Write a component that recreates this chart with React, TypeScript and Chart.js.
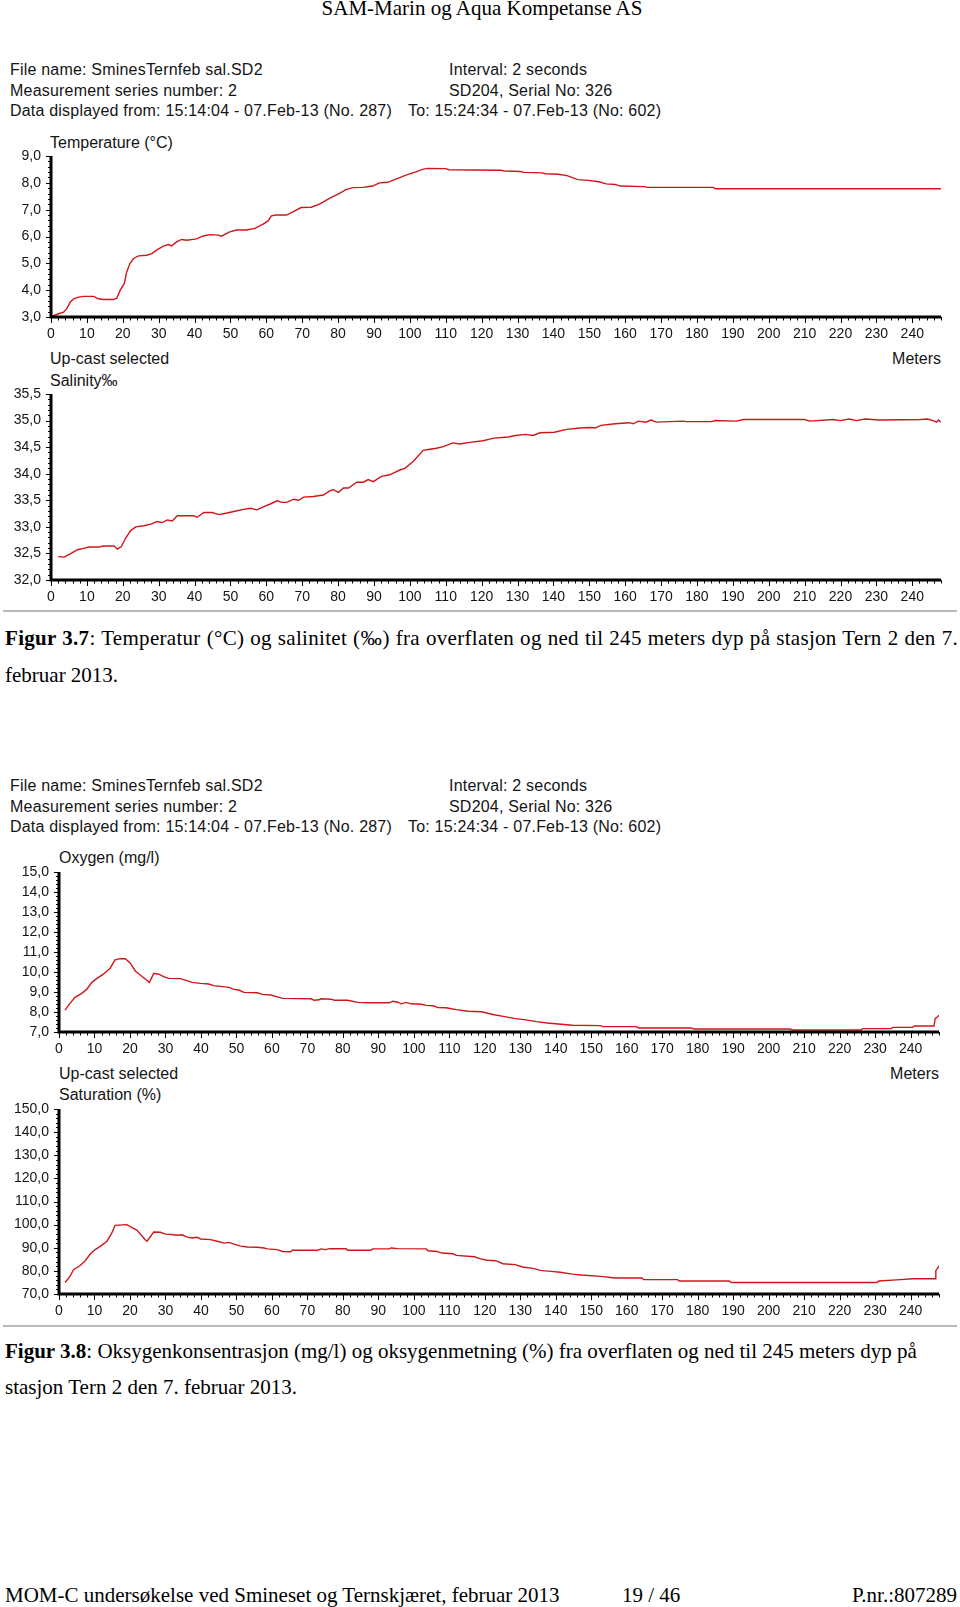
import React, { useEffect, useRef } from "react";
import { Chart, registerables } from "chart.js";

Chart.register(...registerables);

// ---------- data ----------
const X_MAX = 248;

const tempDepth = [0.3, 2.1, 3.5, 4.4, 5.4, 6.3, 7.7, 9.1, 11.9, 13.2, 14.6, 17.4, 18.3, 19.3, 20.4, 21.1, 22.0, 23.0, 24.4, 26.7, 28.1, 29.4, 31.3, 32.7, 33.6, 35.0, 36.4, 37.8, 40.6, 42.4, 44.3, 46.6, 47.5, 49.8, 51.7, 54.4, 56.8, 59.1, 60.5, 61.4, 62.8, 65.6, 67.4, 69.7, 72.5, 74.8, 77.6, 80.4, 82.2, 84.1, 86.9, 89.6, 91.5, 93.8, 96.1, 98.9, 101.7, 103.5, 104.9, 110.0, 110.9, 125.4, 126.4, 130.8, 131.8, 136.8, 137.8, 141.3, 143.8, 146.8, 149.7, 152.7, 154.7, 157.2, 158.7, 165.2, 166.2, 184.6, 185.1, 248];
const tempValue = [3.03, 3.12, 3.18, 3.31, 3.56, 3.68, 3.74, 3.77, 3.77, 3.68, 3.65, 3.65, 3.70, 4.0, 4.24, 4.68, 4.99, 5.18, 5.28, 5.30, 5.36, 5.49, 5.64, 5.70, 5.65, 5.80, 5.89, 5.86, 5.91, 6.02, 6.07, 6.05, 6.01, 6.17, 6.24, 6.24, 6.30, 6.46, 6.58, 6.77, 6.80, 6.80, 6.92, 7.08, 7.09, 7.21, 7.42, 7.61, 7.75, 7.82, 7.83, 7.88, 8.00, 8.02, 8.14, 8.29, 8.41, 8.50, 8.54, 8.53, 8.49, 8.47, 8.44, 8.42, 8.39, 8.37, 8.34, 8.32, 8.27, 8.12, 8.09, 8.04, 7.96, 7.94, 7.88, 7.86, 7.83, 7.83, 7.78, 7.78];

const salDepth = [2.0, 3.7, 5.6, 7.4, 9.3, 10.6, 13.4, 14.4, 17.6, 18.5, 19.6, 20.8, 22.2, 23.6, 25.9, 27.8, 29.6, 31.0, 32.4, 33.8, 35.2, 39.8, 40.7, 42.6, 44.9, 46.8, 49.1, 50.9, 53.7, 55.6, 57.4, 59.3, 61.1, 63.0, 64.4, 65.7, 67.6, 69.0, 70.4, 73.1, 75.9, 77.8, 78.7, 80.1, 81.5, 82.9, 85.2, 87.0, 88.4, 89.8, 92.1, 94.4, 97.2, 98.6, 100.9, 103.7, 105.6, 107.4, 109.3, 112.0, 113.9, 116.7, 120.4, 123.4, 127.4, 129.4, 132.3, 134.3, 136.3, 140.3, 143.3, 147.3, 150.2, 151.7, 153.2, 157.2, 161.2, 162.2, 163.7, 165.7, 167.2, 168.7, 176.1, 177.1, 184.1, 185.1, 191.0, 193.0, 210.0, 211.4, 217.9, 219.9, 222.4, 224.4, 226.9, 230.8, 242.3, 244.3, 245.8, 246.8, 247.3, 248];
const salValue = [32.44, 32.43, 32.50, 32.57, 32.60, 32.62, 32.62, 32.64, 32.64, 32.58, 32.63, 32.79, 32.93, 33.00, 33.02, 33.05, 33.10, 33.08, 33.13, 33.11, 33.21, 33.21, 33.18, 33.27, 33.27, 33.23, 33.26, 33.29, 33.33, 33.35, 33.32, 33.38, 33.43, 33.49, 33.46, 33.46, 33.52, 33.50, 33.56, 33.57, 33.60, 33.68, 33.70, 33.65, 33.73, 33.73, 33.84, 33.84, 33.89, 33.85, 33.95, 33.98, 34.07, 34.10, 34.23, 34.44, 34.46, 34.48, 34.51, 34.58, 34.56, 34.59, 34.62, 34.67, 34.69, 34.72, 34.74, 34.72, 34.77, 34.78, 34.83, 34.86, 34.87, 34.86, 34.91, 34.94, 34.96, 34.94, 34.99, 34.97, 35.01, 34.97, 34.99, 34.98, 34.98, 35.00, 34.99, 35.02, 35.02, 34.99, 35.02, 35.00, 35.03, 35.00, 35.03, 35.01, 35.02, 35.03, 35.00, 34.97, 35.01, 34.97];

const oxyDepth = [1.7, 3.1, 4.5, 6.4, 7.8, 9.2, 10.7, 12.5, 14.4, 15.8, 17.2, 18.7, 20.1, 21.5, 22.9, 24.3, 25.5, 26.7, 28.1, 29.5, 30.9, 34.2, 36.1, 37.5, 39.9, 42.2, 43.6, 47.9, 49.3, 50.7, 52.1, 55.9, 57.3, 59.7, 61.5, 63.0, 71.0, 71.9, 73.3, 73.8, 76.6, 77.6, 81.3, 84.2, 87.0, 93.1, 94.1, 95.5, 96.4, 97.8, 99.2, 102.1, 103.5, 105.4, 106.8, 109.1, 110.6, 112.0, 115.3, 119.1, 122.6, 125.6, 128.6, 131.1, 134.6, 137.6, 140.7, 144.7, 152.7, 153.2, 162.7, 163.3, 178.3, 178.8, 205.9, 206.9, 226.0, 226.5, 234.5, 235.0, 240.6, 241.1, 246.6, 246.9, 247.6, 248];
const oxyValue = [8.09, 8.43, 8.73, 8.93, 9.13, 9.47, 9.68, 9.89, 10.19, 10.61, 10.67, 10.66, 10.44, 10.05, 9.85, 9.65, 9.48, 9.94, 9.89, 9.77, 9.68, 9.67, 9.57, 9.48, 9.43, 9.40, 9.32, 9.23, 9.13, 9.10, 8.98, 8.96, 8.88, 8.85, 8.76, 8.68, 8.66, 8.59, 8.61, 8.66, 8.64, 8.59, 8.59, 8.48, 8.46, 8.46, 8.54, 8.49, 8.41, 8.48, 8.41, 8.39, 8.33, 8.31, 8.22, 8.21, 8.16, 8.12, 8.04, 8.01, 7.86, 7.77, 7.67, 7.62, 7.52, 7.45, 7.40, 7.34, 7.32, 7.27, 7.27, 7.20, 7.20, 7.15, 7.15, 7.10, 7.10, 7.17, 7.17, 7.23, 7.23, 7.30, 7.30, 7.67, 7.76, 7.84];

const satDepth = [1.7, 3.1, 4.1, 5.9, 7.4, 8.8, 10.2, 11.6, 13.5, 14.9, 15.8, 19.1, 22.0, 24.3, 24.8, 26.7, 28.6, 30.0, 32.3, 33.3, 34.7, 36.1, 37.5, 38.9, 39.9, 42.7, 44.6, 46.5, 47.9, 49.3, 51.2, 53.1, 55.9, 57.8, 58.7, 61.5, 63.0, 65.3, 65.8, 72.9, 73.8, 75.2, 76.2, 80.9, 81.3, 87.9, 88.4, 93.1, 93.6, 95.5, 103.5, 104.0, 106.5, 108.0, 111.0, 112.0, 117.1, 118.6, 120.6, 123.1, 125.1, 128.6, 130.6, 133.6, 135.6, 138.7, 141.2, 144.7, 147.2, 152.7, 156.7, 164.3, 164.8, 174.3, 174.8, 188.9, 189.4, 230.5, 231.0, 236.0, 240.6, 246.9, 247.1, 247.6, 248];
const satValue = [75.0, 77.6, 80.5, 82.2, 84.4, 87.3, 89.2, 90.6, 92.8, 96.4, 99.7, 100.0, 97.5, 93.5, 92.8, 96.8, 96.7, 95.9, 95.6, 95.4, 95.6, 94.6, 94.2, 94.5, 93.8, 93.5, 92.8, 92.0, 92.3, 91.6, 90.7, 90.3, 90.2, 89.9, 89.5, 89.2, 88.4, 88.3, 88.9, 88.9, 89.5, 89.2, 89.6, 89.6, 88.9, 88.9, 89.5, 89.5, 89.9, 89.6, 89.5, 88.7, 88.4, 87.7, 87.4, 86.7, 86.1, 85.3, 84.6, 84.4, 83.1, 82.7, 81.7, 81.1, 80.2, 79.8, 79.4, 78.6, 78.2, 77.6, 76.9, 76.9, 76.2, 76.2, 75.6, 75.6, 75.0, 75.0, 75.6, 76.1, 76.6, 76.6, 80.1, 81.2, 82.1];

const headerLeft = [
  "File name: SminesTernfeb sal.SD2",
  "Measurement series number: 2",
  "Data displayed from: 15:14:04 - 07.Feb-13 (No. 287)",
];
const headerRight = ["Interval: 2 seconds", "SD204, Serial No: 326"];
const headerTo = "To: 15:24:34 - 07.Feb-13 (No: 602)";

const SANS = "'Liberation Sans', Arial, sans-serif";
const SERIF = "'Liberation Serif', 'Times New Roman', serif";
const INK = "#141414";

type PanelProps = {
  top: number;
  height: number;
  areaLeft: number;
  areaRight: number;
  areaTop: number;
  areaBottom: number;
  depth: number[];
  values: number[];
  yMin: number;
  yMax: number;
  yStep: number;
  yMinor: number;
};

function zeroPad(s: any) {
  s.paddingTop = 0;
  s.paddingBottom = 0;
  s.paddingLeft = 0;
  s.paddingRight = 0;
}

function Panel(p: PanelProps) {
  const ref = useRef<HTMLCanvasElement>(null);
  useEffect(() => {
    const n = Math.min(p.depth.length, p.values.length);
    const data = [] as { x: number; y: number }[];
    for (let i = 0; i < n; i++) data.push({ x: p.depth[i], y: p.values[i] });
    const perMajor = Math.round(p.yStep / p.yMinor);
    const decor = {
      id: "axisDecor",
      afterDraw(chart: any) {
        const { ctx, chartArea: a, scales } = chart;
        const xs = scales.x;
        const ys = scales.y;
        ctx.save();
        ctx.strokeStyle = "#000";
        ctx.lineWidth = 1;
        ctx.beginPath();
        const nx = Math.floor(X_MAX / 2);
        for (let i = 0; i <= nx; i++) {
          const v = i * 2;
          const px = Math.round(xs.getPixelForValue(v)) + 0.5;
          const major = v % 10 === 0;
          ctx.moveTo(px, a.bottom);
          ctx.lineTo(px, a.bottom + (major ? 6 : 3.5));
        }
        const ny = Math.round((p.yMax - p.yMin) / p.yMinor);
        for (let i = 0; i <= ny; i++) {
          const v = p.yMin + i * p.yMinor;
          const py = Math.round(ys.getPixelForValue(v)) + 0.5;
          const major = i % perMajor === 0;
          ctx.moveTo(a.left, py);
          ctx.lineTo(a.left - (major ? 5 : 3), py);
        }
        ctx.stroke();
        ctx.lineWidth = 3;
        ctx.beginPath();
        ctx.moveTo(a.left, a.top);
        ctx.lineTo(a.left, a.bottom);
        ctx.lineTo(a.right, a.bottom);
        ctx.stroke();
        ctx.restore();
      },
    };
    const tickFont = { family: SANS, size: 14 };
    const chart = new Chart(ref.current as HTMLCanvasElement, {
      type: "line",
      data: {
        datasets: [
          {
            data,
            borderColor: "#d0161b",
            borderWidth: 1.4,
            pointRadius: 0,
            tension: 0,
            fill: false,
          },
        ],
      },
      options: {
        animation: false,
        responsive: false,
        maintainAspectRatio: false,
        events: [],
        layout: {
          padding: { left: 0, right: 960 - p.areaRight, top: p.areaTop - p.top, bottom: 0 },
        },
        plugins: { legend: { display: false }, tooltip: { enabled: false } },
        scales: {
          x: {
            type: "linear",
            min: 0,
            max: X_MAX,
            grid: { display: false, drawTicks: false },
            border: { display: false },
            ticks: {
              stepSize: 10,
              autoSkip: false,
              maxRotation: 0,
              minRotation: 0,
              includeBounds: false,
              padding: 9,
              color: INK,
              font: tickFont,
              callback: (v: any) => String(Math.round(Number(v))),
            },
            afterFit: (s: any) => {
              s.height = p.top + p.height - p.areaBottom;
              zeroPad(s);
            },
          },
          y: {
            type: "linear",
            min: p.yMin,
            max: p.yMax,
            grid: { display: false, drawTicks: false },
            border: { display: false },
            ticks: {
              stepSize: p.yStep,
              padding: 10,
              color: INK,
              font: tickFont,
              callback: (v: any) => Number(v).toFixed(1).replace(".", ","),
            },
            afterFit: (s: any) => {
              s.width = p.areaLeft;
              zeroPad(s);
            },
          },
        },
      } as any,
      plugins: [decor],
    });
    return () => chart.destroy();
  }, []);
  return (
    <canvas
      ref={ref}
      width={960}
      height={p.height}
      style={{ position: "absolute", left: 0, top: p.top, width: 960, height: p.height }}
    />
  );
}

function T(props: {
  x?: number;
  right?: number;
  y: number;
  size?: number;
  family?: string;
  spacing?: number;
  children: React.ReactNode;
  style?: React.CSSProperties;
}) {
  const size = props.size ?? 16;
  const lh = Math.round(size * 1.25);
  const st: React.CSSProperties = {
    position: "absolute",
    top: props.y - lh / 2,
    lineHeight: `${lh}px`,
    fontSize: size,
    fontFamily: props.family ?? SANS,
    whiteSpace: "nowrap",
    color: INK,
    letterSpacing: props.spacing ?? 0,
    ...props.style,
  };
  if (props.right !== undefined) st.right = 960 - props.right;
  else st.left = props.x ?? 0;
  return <div style={st}>{props.children}</div>;
}

function Header({ top }: { top: number }) {
  return (
    <>
      {headerLeft.map((t, i) => (
        <T key={"l" + i} x={10} y={top + i * 20.5} spacing={0.2}>
          {t}
        </T>
      ))}
      {headerRight.map((t, i) => (
        <T key={"r" + i} x={449} y={top + i * 20.5} spacing={0.2}>
          {t}
        </T>
      ))}
      <T x={408} y={top + 41} spacing={0.2}>
        {headerTo}
      </T>
    </>
  );
}

export default function App() {
  useEffect(() => {
    document.body.style.margin = "0";
  }, []);
  const capStyle: React.CSSProperties = { color: "#000" };
  const justify: React.CSSProperties = {
    color: "#000",
    width: 953,
    whiteSpace: "normal",
    textAlign: "justify",
    textAlignLast: "justify",
  };
  return (
    <div style={{ position: "absolute", left: 0, top: 0, width: 960, height: 1607, background: "#fff", overflow: "hidden" }}>
      <div
        style={{
          position: "absolute",
          left: 0,
          width: 964,
          top: -5,
          textAlign: "center",
          fontFamily: SERIF,
          fontSize: 21,
          lineHeight: "26px",
          color: "#000",
        }}
      >
        SAM-Marin og Aqua Kompetanse AS
      </div>

      {/* Figure 3.7 */}
      <Header top={70} />
      <T x={50} y={143}>Temperature (°C)</T>
      <Panel top={146} height={200} areaLeft={51} areaRight={941} areaTop={156} areaBottom={317}
        depth={tempDepth} values={tempValue} yMin={3} yMax={9} yStep={1} yMinor={0.2} />
      <T x={50} y={359}>Up-cast selected</T>
      <T right={941} y={359}>Meters</T>
      <T x={50} y={381}>Salinity‰</T>
      <Panel top={384} height={226} areaLeft={51} areaRight={941} areaTop={394} areaBottom={580}
        depth={salDepth} values={salValue} yMin={32} yMax={35.5} yStep={0.5} yMinor={0.1} />
      <div style={{ position: "absolute", left: 3, width: 954, top: 610, height: 2, background: "#b9b9b9" }} />
      <T x={5} y={638} size={21} family={SERIF} spacing={0.3} style={justify}>
        <b>Figur 3.7</b>: Temperatur (°C) og salinitet (‰) fra overflaten og ned til 245 meters dyp på stasjon Tern 2 den 7.
      </T>
      <T x={5} y={675} size={21} family={SERIF} style={capStyle}>
        februar 2013.
      </T>

      {/* Figure 3.8 */}
      <Header top={786} />
      <T x={59} y={858}>Oxygen (mg/l)</T>
      <Panel top={862} height={200} areaLeft={59} areaRight={939} areaTop={872} areaBottom={1032}
        depth={oxyDepth} values={oxyValue} yMin={7} yMax={15} yStep={1} yMinor={0.2} />
      <T x={59} y={1074}>Up-cast selected</T>
      <T right={939} y={1074}>Meters</T>
      <T x={59} y={1095}>Saturation (%)</T>
      <Panel top={1099} height={226} areaLeft={59} areaRight={939} areaTop={1109} areaBottom={1294}
        depth={satDepth} values={satValue} yMin={70} yMax={150} yStep={10} yMinor={2} />
      <div style={{ position: "absolute", left: 3, width: 954, top: 1325, height: 2, background: "#b9b9b9" }} />
      <T x={5} y={1351} size={21} family={SERIF} style={capStyle}>
        <b>Figur 3.8</b>: Oksygenkonsentrasjon (mg/l) og oksygenmetning (%) fra overflaten og ned til 245 meters dyp på
      </T>
      <T x={5} y={1387} size={21} family={SERIF} style={capStyle}>
        stasjon Tern 2 den 7. februar 2013.
      </T>

      {/* Footer */}
      <T x={5} y={1595} size={21} family={SERIF} style={capStyle}>
        MOM-C undersøkelse ved Smineset og Ternskjæret, februar 2013
      </T>
      <T x={622} y={1595} size={21} family={SERIF} style={capStyle}>
        19 / 46
      </T>
      <T right={957} y={1595} size={21} family={SERIF} style={capStyle}>
        P.nr.:807289
      </T>
    </div>
  );
}
